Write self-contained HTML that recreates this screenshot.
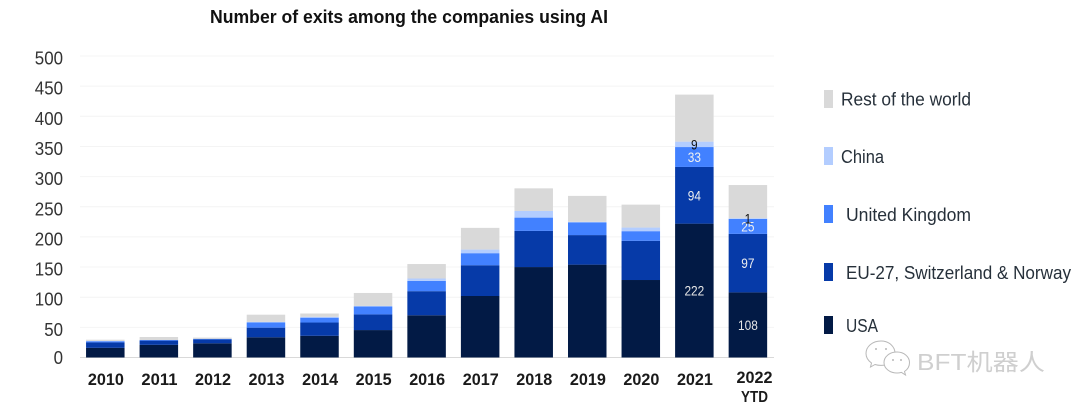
<!DOCTYPE html>
<html lang="en">
<head>
<meta charset="utf-8">
<title>Number of exits among the companies using AI</title>
<style>
  html, body { margin: 0; padding: 0; background: #fff; width: 1080px; height: 409px; overflow: hidden; }
  svg { display: block; font-family: "Liberation Sans", "Noto Sans CJK SC", sans-serif; }
</style>
</head>
<body>
<svg id="chart" xmlns="http://www.w3.org/2000/svg" width="1080" height="409" viewBox="0 0 1080 409">
  <rect x="0" y="0" width="1080" height="409" fill="#ffffff"/>
  <text x="210" y="23" font-size="18.5" font-weight="700" fill="#111111" textLength="398" lengthAdjust="spacingAndGlyphs">Number of exits among the companies using AI</text>
  <g id="grid"></g>
  <g id="bars"></g>
  <g id="yaxis"></g>
  <g id="xaxis"></g>
  <g id="labels"></g>

  <g font-size="18" fill="#26303a">
    <rect x="824" y="90" width="9" height="18" fill="#d9d9d9"/>
    <text x="841" y="105.500" textLength="130" lengthAdjust="spacingAndGlyphs">Rest of the world</text>
    <rect x="824" y="147" width="9" height="18" fill="#b3cdff"/>
    <text x="841" y="163" textLength="43" lengthAdjust="spacingAndGlyphs">China</text>
    <rect x="824" y="205" width="9" height="18" fill="#4281ff"/>
    <text x="846" y="221" textLength="125" lengthAdjust="spacingAndGlyphs">United Kingdom</text>
    <rect x="824" y="263" width="9" height="18" fill="#063aa8"/>
    <text x="846" y="279" textLength="225" lengthAdjust="spacingAndGlyphs">EU-27, Switzerland &amp; Norway</text>
    <rect x="824" y="316" width="9" height="18" fill="#021a45"/>
    <text x="846" y="332" textLength="32" lengthAdjust="spacingAndGlyphs">USA</text>
  </g>

  <g>
    <g fill="#ffffff" stroke="#b8b8b8" stroke-width="1">
      <path d="M881 341c-8.500 0-15 5.500-15 12.500 0 4 2 7 5.500 9.500l-1 4 4.500-2.500c2 .6 4 .9 6 .9 8 0 14-5.500 14-12 0-7-6-12.400-14-12.400z"/>
      <path d="M897 352c-7.500 0-13 4.700-13 10.500s5.500 10.500 13 10.500c1.500 0 3-.2 4.500-.6l4 2.600-1-3.500c3-2 5-5 5-9 0-5.800-5.500-10.500-12.500-10.500z"/>
      <circle cx="876" cy="349" r="1" fill="#b8b8b8" stroke="none"/>
      <circle cx="886" cy="349" r="1" fill="#b8b8b8" stroke="none"/>
      <circle cx="893" cy="360" r="1" fill="#b8b8b8" stroke="none"/>
      <circle cx="901" cy="360" r="1" fill="#b8b8b8" stroke="none"/>
    </g>
    <text x="917" y="370" font-size="23" fill="#cfcfcf" textLength="128" lengthAdjust="spacingAndGlyphs">BFT机器人</text>
  </g>
</svg>

<script>
const categories = ['2010','2011','2012','2013','2014','2015','2016','2017','2018','2019','2020','2021','2022'];
const usa   = [16, 21, 23.5, 33.5, 36, 45.5, 70, 102, 150, 154, 128.5, 222, 108];
const eu    = [9, 7, 6.5, 16, 22, 26, 40, 51, 60, 49, 65, 94, 97];
const uk    = [2, 1, 1, 8.5, 8, 13, 17, 20, 22, 21, 16, 33, 25];
const china = [0.5, 0, 0, 1, 1.5, 1, 4, 6, 11, 1, 6, 9, 1];
const rest  = [2, 5, 2, 12, 5.5, 21.5, 24, 36, 37.5, 43, 38, 78, 55];
const yTicks = [0, 50, 100, 150, 200, 250, 300, 350, 400, 450, 500];
const labeledYears = ['2021', '2022'];

const NS = 'http://www.w3.org/2000/svg';
const yZero = 357.5, yTop = 56, yMax = 500;
const xStart = 105.3, xStep = 53.55, barWidth = 38.5;
const gridLeft = 80, gridRight = 774;

function yScale(v) { return yZero - (v / yMax) * (yZero - yTop); }
function xCenter(i) { return xStart + i * xStep; }
function make(tag, parent) {
  const el = document.createElementNS(NS, tag);
  parent.appendChild(el);
  return el;
}

const gridG = document.getElementById('grid');
const yG = document.getElementById('yaxis');
const xG = document.getElementById('xaxis');
const barsG = document.getElementById('bars');
const labelsG = document.getElementById('labels');

yTicks.forEach(function (t) {
  const line = make('line', gridG);
  
  
  line.setAttribute('x1', gridLeft);
  line.setAttribute('x2', gridRight);
  line.setAttribute('y1', yScale(t));
  line.setAttribute('y2', yScale(t));
  line.setAttribute('stroke', t === 0 ? '#d9d9d9' : '#f4f4f4');
  line.setAttribute('stroke-width', '1');

  const label = make('text', yG);
  
  
  label.setAttribute('x', 63);
  label.setAttribute('y', yScale(t) + (t === 0 ? 6.5 : 8.5));
  label.setAttribute('text-anchor', 'end');
  label.setAttribute('font-size', '18.5');
  label.setAttribute('fill', '#333333');
  label.setAttribute('textLength', String(t).length * 9.4);
  label.setAttribute('lengthAdjust', 'spacingAndGlyphs');
  label.textContent = t;
});

const seriesList = [
  { key: 'usa', values: usa, color: '#021a45', text: '#e6e6e6' },
  { key: 'eu', values: eu, color: '#063aa8', text: '#f0f0f0' },
  { key: 'uk', values: uk, color: '#4281ff', text: '#f0f0f0' },
  { key: 'china', values: china, color: '#b3cdff', text: '#111111' },
  { key: 'rest', values: rest, color: '#d9d9d9', text: null }
];

categories.forEach(function (cat, i) {
  let cum = 0;
  seriesList.forEach(function (s) {
    const v = s.values[i];
    const y0 = yScale(cum);
    const y1 = yScale(cum + v);
    if (v > 0) {
      const rect = make('rect', barsG);
      
      
      rect.setAttribute('x', xCenter(i) - barWidth / 2);
      rect.setAttribute('y', y1);
      rect.setAttribute('width', barWidth);
      rect.setAttribute('height', y0 - y1);
      rect.setAttribute('fill', s.color);
    }
    if (s.text && labeledYears.indexOf(cat) !== -1) {
      const lab = make('text', labelsG);
      
      
      lab.setAttribute('x', xCenter(i));
      lab.setAttribute('y', (y0 + y1) / 2 + 5);
      lab.setAttribute('text-anchor', 'middle');
      lab.setAttribute('font-size', '13.5');
      lab.setAttribute('fill', s.text);
      lab.setAttribute('textLength', String(v).length * 6.6);
      lab.setAttribute('lengthAdjust', 'spacingAndGlyphs');
      lab.textContent = v;
    }
    cum += v;
  });

  const tick = make('text', xG);
  
  
  tick.setAttribute('x', xCenter(i) + (cat === '2022' ? 6.6 : 0.6));
  tick.setAttribute('y', cat === '2022' ? 383 : 385);
  tick.setAttribute('text-anchor', 'middle');
  tick.setAttribute('font-size', '16.5');
  tick.setAttribute('font-weight', '700');
  tick.setAttribute('fill', '#1a1a1a');
  tick.setAttribute('textLength', '36');
  tick.setAttribute('lengthAdjust', 'spacingAndGlyphs');
  tick.textContent = cat;
});

const ytd = make('text', xG);


ytd.setAttribute('x', xCenter(categories.length - 1) + 6.6);
ytd.setAttribute('y', 402);
ytd.setAttribute('text-anchor', 'middle');
ytd.setAttribute('font-size', '16');
ytd.setAttribute('font-weight', '700');
ytd.setAttribute('fill', '#1a1a1a');
ytd.setAttribute('textLength', '27');
ytd.setAttribute('lengthAdjust', 'spacingAndGlyphs');
ytd.textContent = 'YTD';
</script>
</body>
</html>
